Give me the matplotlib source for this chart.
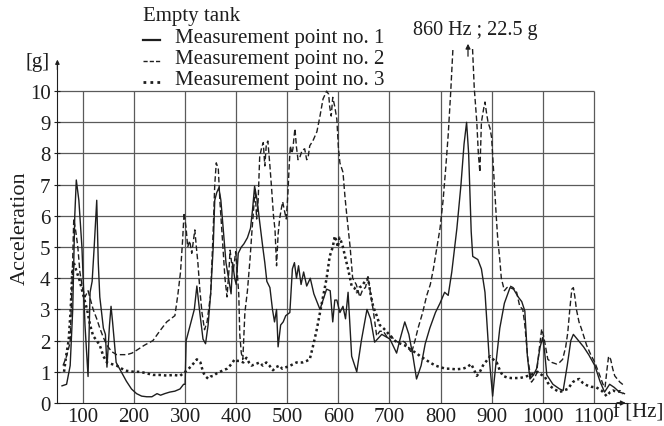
import matplotlib.pyplot as plt
from matplotlib.lines import Line2D

# measurement point no. 1 (solid)
f1 = [59, 68, 75, 80, 84, 87, 92, 98, 104, 110, 114, 118, 122, 127, 130, 133, 140, 144, 147, 152,
      155, 158, 165, 175, 185, 195, 205, 215, 225, 235, 245, 252, 260, 270, 280, 290, 297, 300, 302, 310,
      318, 323, 328, 335, 340, 345, 350, 355, 358, 362, 366, 370, 375, 380, 385, 390, 393, 397, 400, 404,
      410, 415, 422, 428, 432, 436, 441, 446, 452, 456, 460, 466, 471, 475, 479, 482, 487, 492, 497, 505,
      510, 514, 518, 522, 527, 532, 538, 545, 552, 564, 577, 584, 589, 593, 597, 603, 609, 614, 619, 626,
      636, 645, 656, 663, 671, 685, 701, 714, 720, 730, 738, 746, 753, 762, 770, 779, 790, 799, 808, 815,
      822, 832, 840, 846, 851, 855, 860, 863, 873, 880, 887, 895, 902, 908, 916, 925, 936, 943, 952, 959,
      965, 970, 975, 982, 988, 995, 1000, 1004, 1008, 1020, 1033, 1040, 1048, 1055, 1060, 1070, 1080, 1090,
      1102, 1112, 1121, 1131, 1140, 1150, 1160]
a1 = [0.55, 0.6, 1.2, 3.0, 6.0, 7.15, 6.5, 5.0, 2.5, 0.85, 3.55, 3.9, 5.0, 6.5, 4.5, 3.4, 2.4, 2.2, 1.15, 2.5,
      3.1, 2.6, 1.3, 1.0, 0.7, 0.45, 0.3, 0.22, 0.2, 0.2, 0.3, 0.25, 0.3, 0.35, 0.38, 0.45, 0.6, 0.6, 2.0, 2.5,
      3.0, 3.75, 3.0, 2.05, 1.9, 2.5, 3.5, 5.0, 6.5, 6.75, 6.9, 6.5, 5.5, 4.5, 4.0, 3.5, 4.5, 4.0, 3.8, 4.8,
      5.0, 5.1, 5.3, 5.6, 6.2, 6.95, 6.5, 5.8, 5.0, 4.5, 3.9, 3.7, 3.0, 2.6, 3.0, 1.8, 2.5, 2.6, 2.8, 2.9,
      4.3, 4.5, 4.0, 4.4, 3.8, 4.2, 3.75, 4.0, 3.5, 3.0, 3.65, 3.6, 2.6, 3.3, 3.3, 2.9, 3.1, 2.7, 3.55, 1.5,
      1.0, 2.0, 3.0, 2.7, 1.95, 2.2, 2.05, 1.6, 2.0, 2.6, 2.2, 1.5, 0.77, 1.2, 1.9, 2.4, 2.9, 3.2, 3.55, 3.45,
      4.2, 5.6, 7.0, 8.3, 9.0, 8.0, 5.5, 4.7, 4.6, 4.3, 3.55, 1.5, 0.22, 1.2, 2.4, 3.2, 3.7, 3.65, 3.4, 3.25,
      2.95, 1.5, 0.77, 0.9, 1.1, 1.8, 2.1, 1.6, 0.9, 0.6, 0.45, 0.4, 1.2, 2.0, 2.2, 2.0, 1.8, 1.55,
      1.2, 0.7, 0.35, 0.6, 0.5, 0.35, 0.3]

# measurement point no. 2 (dashed), peak at 22.5 g goes off the chart
f2 = [61, 68, 75, 79, 82, 86, 90, 94, 99, 104, 110, 115, 120, 127, 133, 140, 147, 156, 166, 176,
      186, 196, 206, 220, 237, 250, 264, 280, 286, 291, 295, 298, 302, 305, 309, 313, 319, 322, 325, 329,
      333, 338, 343, 350, 355, 358, 361, 365, 368, 370, 374, 378, 382, 386, 388, 391, 394, 397, 399, 402,
      405, 407, 410, 413, 417, 422, 427, 431, 434, 437, 440, 443, 446, 450, 453, 456, 459, 462, 466, 469,
      473, 476, 479, 482, 485, 488, 491, 494, 498, 501, 504, 506, 509, 511, 513, 515, 518, 521, 525, 529,
      534, 538, 541, 544, 550, 558, 564, 570, 577, 581, 583, 586, 589, 593, 597, 600, 603, 609, 613, 616,
      623, 628, 635, 642, 648, 653, 658, 663, 668, 675, 681, 688, 696, 704, 710, 717, 724, 730, 737, 743,
      750, 756, 765, 773, 780, 786, 793, 799, 805, 810, 815, 820, 825, 845, 862, 866, 871, 874, 877, 880,
      884, 887, 890, 893, 897, 900, 903, 906, 909, 912, 916, 919, 925, 930, 936, 942, 949, 955, 961, 965,
      971, 978, 984, 988, 993, 998, 1001, 1004, 1010, 1018, 1027, 1033, 1039, 1045, 1049, 1053, 1057, 1060,
      1063, 1066, 1071, 1076, 1086, 1094, 1102, 1112, 1118, 1122, 1126, 1129, 1133, 1137, 1141, 1151, 1160]
a2 = [1.2, 1.5, 1.95, 4.0, 5.9, 5.5, 5.0, 4.2, 3.7, 3.4, 3.6, 3.3, 3.0, 2.7, 2.4, 2.1, 1.85, 1.65, 1.55, 1.55,
      1.55, 1.6, 1.7, 1.85, 2.0, 2.3, 2.6, 2.8, 3.5, 4.2, 5.2, 6.1, 5.6, 5.0, 5.2, 4.8, 5.55, 5.0, 4.5, 3.6,
      2.9, 2.35, 2.6, 3.5, 5.55, 7.0, 7.7, 7.5, 6.5, 6.0, 5.0, 4.0, 3.4, 4.3, 4.9, 4.5, 4.2, 4.6, 4.85, 4.2,
      3.5, 2.2, 1.6, 1.4, 2.9, 3.6, 4.6, 5.55, 6.2, 6.85, 5.9, 6.5, 7.9, 8.2, 8.35, 7.6, 8.3, 8.4, 7.6, 6.95,
      6.0, 5.55, 4.4, 5.4, 5.9, 6.2, 6.45, 6.2, 5.9, 6.65, 7.7, 8.25, 8.0, 8.15, 8.5, 8.8, 8.2, 7.8, 7.9, 8.1,
      8.15, 7.8, 7.9, 8.25, 8.4, 8.7, 9.2, 9.75, 10.0, 9.9, 9.5, 9.2, 9.8, 9.5, 9.1, 8.2, 7.7, 7.4, 6.6, 6.1,
      5.0, 4.0, 3.8, 3.4, 3.65, 3.7, 4.05, 3.5, 3.0, 2.15, 2.3, 2.3, 2.1, 2.15, 2.0, 1.95, 2.0, 1.95, 1.8, 1.6,
      2.0, 2.4, 2.9, 3.45, 3.8, 4.3, 5.0, 5.6, 6.5, 7.5, 8.6, 10.0, 11.6, 22.5, 11.6, 10.1, 9.0, 8.0, 7.4, 9.0,
      9.4, 9.65, 9.3, 9.0, 8.8, 8.5, 7.7, 6.85, 6.0, 5.25, 4.6, 4.0, 3.6, 3.7, 3.75, 3.7, 3.55, 3.1, 3.0, 2.5,
      1.4, 0.67, 0.8, 0.95, 1.7, 2.37, 2.2, 1.95, 1.4, 1.3, 1.25, 1.3, 1.4, 1.8, 2.25, 3.0, 3.65, 3.7,
      3.4, 3.0, 2.6, 2.37, 1.85, 1.55, 1.3, 0.87, 0.6, 0.5, 1.1, 1.5, 1.4, 1.1, 0.87, 0.67, 0.55]

# measurement point no. 3 (dotted)
f3 = [63, 67, 72, 76, 79, 82, 86, 90, 94, 100, 108, 114, 120, 127, 133, 140, 147, 156, 166, 176,
      186, 200, 212, 225, 237, 250, 264, 278, 290, 300, 307, 313, 318, 323, 327, 330, 335, 339, 345, 350,
      355, 362, 368, 375, 382, 388, 393, 397, 402, 407, 414, 420, 425, 430, 438, 446, 452, 459, 465, 472,
      478, 485, 490, 498, 506, 518, 530, 538, 544, 550, 557, 564, 570, 577, 583, 589, 593, 596, 599, 602,
      605, 609, 613, 619, 626, 631, 636, 641, 646, 652, 658, 663, 668, 675, 681, 688, 694, 704, 714, 722,
      730, 742, 753, 760, 770, 779, 790, 799, 810, 818, 830, 844, 852, 860, 866, 871, 877, 883, 890, 897,
      903, 910, 916, 922, 930, 938, 947, 955, 963, 971, 981, 990, 998, 1004, 1010, 1014, 1022, 1033, 1041, 1049,
      1059, 1066, 1072, 1078, 1086, 1095, 1105, 1115, 1121, 1125, 1132, 1138, 1145, 1151, 1157]
a3 = [1.0, 1.5, 2.0, 3.0, 4.2, 4.5, 4.3, 4.1, 3.9, 3.5, 3.0, 2.5, 2.15, 2.0, 1.85, 1.5, 1.3, 1.25, 1.2, 1.1,
      1.03, 1.0, 1.0, 0.95, 0.9, 0.9, 0.88, 0.9, 0.87, 1.0, 1.1, 1.2, 1.3, 1.4, 1.35, 1.3, 1.0, 0.87, 0.78, 0.85,
      0.87, 0.95, 1.0, 1.05, 1.1, 1.2, 1.3, 1.4, 1.35, 1.35, 1.3, 1.45, 1.3, 1.2, 1.25, 1.3, 1.2, 1.3, 1.2, 1.05,
      1.15, 1.2, 1.1, 1.15, 1.2, 1.3, 1.3, 1.35, 1.4, 1.8, 2.3, 2.9, 3.4, 4.0, 4.7, 5.0, 5.35, 5.2, 5.0, 5.3,
      5.2, 5.0, 4.7, 4.3, 3.75, 3.7, 3.55, 3.7, 3.75, 3.9, 4.0, 3.5, 3.1, 2.8, 2.5, 2.4, 2.3, 2.1, 1.95, 1.9,
      1.85, 1.7, 1.6, 1.5, 1.4, 1.3, 1.2, 1.15, 1.1, 1.1, 1.08, 1.1, 1.15, 1.25, 1.05, 0.87, 1.0, 1.2, 1.35, 1.5,
      1.4, 1.3, 1.05, 0.87, 0.82, 0.8, 0.8, 0.8, 0.83, 0.87, 0.93, 1.0, 0.9, 0.85, 0.65, 0.55, 0.45, 0.35, 0.4, 0.45,
      0.67, 0.75, 0.77, 0.65, 0.57, 0.52, 0.5, 0.4, 0.3, 0.22, 0.35, 0.4, 0.35, 0.38, 0.3]

x_ticks = [100, 200, 300, 400, 500, 600, 700, 800, 900, 1000, 1100]
y_ticks = list(range(0, 11))

plt.rcParams["font.family"] = ["Liberation Serif", "DejaVu Serif"]
ink = "#1e1e1e"
grid_c = "#5a5a5a"

W, H = 664, 427
fig = plt.figure(figsize=(W / 100, H / 100), dpi=100)
ax = fig.add_axes([57.4 / W, 23 / H, 569.6 / W, 354 / H])
ax.set_xlim(50, 1165)
ax.set_ylim(0, 11.35)

# grid only inside 0..10 g and up to 1100 Hz
ax.hlines(y_ticks[1:], 50, 1100, color=grid_c, lw=0.9, zorder=1)
ax.vlines(x_ticks, 0, 10, color=grid_c, lw=0.9, zorder=1)

ax.plot(f1, a1, color=ink, lw=1.0, zorder=3)
ax.plot(f2, a2, color=ink, lw=1.0, ls=(0, (4, 2)), zorder=3)
ax.plot(f3, a3, color=ink, lw=1.8, ls=(0, (1, 1.2)), zorder=3)

for s in ["top", "right"]:
    ax.spines[s].set_visible(False)
ax.spines["left"].set_bounds(0, 10.95)
ax.spines["left"].set_color(ink)
ax.spines["bottom"].set_color(ink)

ax.set_xticks(x_ticks)
ax.set_xticklabels([str(v) for v in x_ticks])
ax.set_yticks(y_ticks)
ax.tick_params(axis="x", length=0, pad=3, labelsize=15, colors=ink)
ax.tick_params(axis="y", length=4, direction="inout", pad=3, labelsize=15, colors=ink)

# axis arrows
ax.annotate("", xy=(1168, 0), xytext=(1140, 0), xycoords="data",
            arrowprops=dict(arrowstyle="-|>", color=ink, lw=0.9, mutation_scale=7),
            annotation_clip=False)
ax.annotate("", xy=(50, 11.1), xytext=(50, 10.6), xycoords="data",
            arrowprops=dict(arrowstyle="-|>", color=ink, lw=0.9, mutation_scale=6),
            annotation_clip=False)

fig.text(20 / W, 1 - 228 / H, "Acceleration", rotation=90, ha="center", va="center",
         fontsize=16, color=ink)
fig.text(38 / W, 1 - 63 / H, "[g]", ha="center", va="center", fontsize=15, color=ink)
fig.text(613 / W, 1 - 413 / H, "f [Hz]", ha="left", va="center", fontsize=15, color=ink)

# legend block
fig.text(143 / W, 1 - 17 / H, "Empty tank", ha="left", va="center", fontsize=15, color=ink)
labels = ["Measurement point no. 1", "Measurement point no. 2", "Measurement point no. 3"]
styles = [dict(lw=1.6, ls="-"), dict(lw=1.0, ls=(0, (3, 1.5))), dict(lw=2.0, ls=(0, (1, 1.5)))]
for i, (lab, st) in enumerate(zip(labels, styles)):
    yy = 1 - (39 + 21 * i) / H
    fig.add_artist(Line2D([143 / W, 160 / W], [yy - 2 / H, yy - 2 / H], color=ink,
                          transform=fig.transFigure, **st))
    fig.text(175 / W, yy, lab, ha="left", va="center", fontsize=15, color=ink)

fig.text(413 / W, 1 - 31 / H, "860 Hz ; 22.5 g", ha="left", va="center", fontsize=14.5, color=ink)
ax.annotate("", xy=(468 / W, 1 - 42 / H), xytext=(468 / W, 1 - 60 / H),
            xycoords="figure fraction",
            arrowprops=dict(arrowstyle="-|>", color=ink, lw=0.9, mutation_scale=7))

fig.savefig("out.png", dpi=100)
